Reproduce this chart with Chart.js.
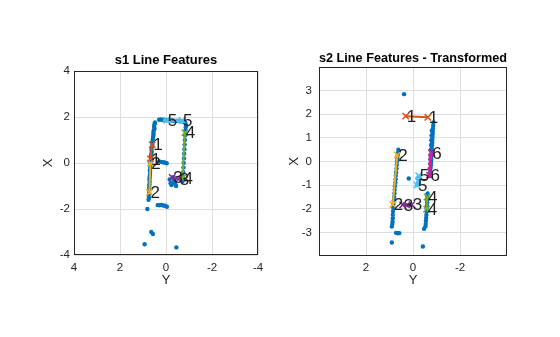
<!DOCTYPE html>
<html><head><meta charset="utf-8">
<script src="https://cdn.jsdelivr.net/npm/chart.js@4"></script>
<style>
html,body{margin:0;padding:0;background:#fff;width:560px;height:337px;overflow:hidden}
canvas{position:absolute;top:0}
#c1{left:0}#c2{left:280px}
</style></head><body>
<canvas id="c1" width="280" height="337"></canvas>
<canvas id="c2" width="280" height="337"></canvas>
<script>
// ---------- data (horizontal axis = Y, vertical axis = X) ----------
const lineNames = ['1','2','3','4','5','6'];
const lineColors = ['#D95319','#EDB120','#7E2F8E','#77AC30','#4DBEEE','#D4209C'];

// s1 scan points
const s1ScanY = [0.48,0.50,0.52,0.50,0.53,0.55,0.54,0.56,0.57,0.58,0.60,0.59,0.62,0.63,0.62,0.64,0.66,0.65,0.67,0.68,0.67,0.69,0.70,0.69,0.70,0.71,0.72,0.71,0.72,0.73,0.73,0.74,0.73,0.75,0.74,0.76,
  0.30,0.22,0.14,0.06,-0.02,-0.10,-0.18,-0.26,-0.34,-0.42,-0.50,-0.58,-0.66,-0.74,-0.82,-0.85,-0.88,
  -0.86,-0.84,-0.83,-0.82,-0.81,-0.80,-0.79,-0.78,-0.77,-0.76,-0.75,-0.73,-0.72,
  0.30,0.22,0.14,0.06,-0.03,
  -0.16,-0.20,-0.24,-0.32,-0.40,-0.44,-0.36,-0.30,
  0.36,0.28,0.20,0.12,0.04,-0.04,
  0.81,0.64,0.57,0.93,-0.45];
const s1ScanX = [1.76,1.68,1.58,1.50,1.42,1.33,1.24,1.15,1.06,0.97,0.88,0.78,0.68,0.58,0.48,0.38,0.28,0.18,0.08,-0.02,-0.12,-0.22,-0.32,-0.42,-0.52,-0.62,-0.72,-0.82,-0.92,-1.02,-1.12,-1.22,-1.32,-1.42,-1.52,-1.60,
  1.88,1.89,1.87,1.88,1.86,1.87,1.85,1.86,1.84,1.83,1.84,1.82,1.81,1.80,1.79,1.70,1.62,
  1.55,1.40,1.20,1.00,0.80,0.60,0.40,0.20,0.00,-0.20,-0.40,-0.60,-0.78,
  0.07,0.05,0.03,0.02,-0.01,
  -0.72,-0.88,-0.96,-0.84,-0.92,-1.00,-0.72,-0.62,
  -1.83,-1.84,-1.82,-1.85,-1.86,-1.90,
  -2.00,-3.00,-3.09,-3.53,-3.67];
const s1CyanY = [0.05,-0.10,-0.25,-0.40,-0.55,-0.70];
const s1CyanX = [1.86,1.85,1.84,1.84,1.83,1.82];
// s1 line features: [start, end]
const s1LineY = [[0.60,0.68],[0.68,0.72],[-0.27,-0.55],[-0.82,-0.72],[-0.03,-0.70]];
const s1LineX = [[0.80,0.18],[0.00,-1.28],[-0.63,-0.70],[1.32,-0.66],[1.86,1.85]];

// s2 scan points
const s2ScanY = [0.38,0.18,-0.42,-0.47,
  -0.87,-0.86,-0.85,-0.84,-0.84,-0.83,-0.82,-0.82,-0.81,-0.80,-0.80,-0.79,-0.78,-0.78,-0.77,-0.76,-0.75,-0.73,-0.71,-0.69,
  -0.80,-0.79,-0.78,-0.77,-0.76,-0.75,-0.74,
  -0.62,-0.61,-0.60,-0.60,-0.59,-0.58,-0.58,-0.57,-0.56,-0.55,-0.54,-0.53,
  0.62,0.63,0.65,0.66,0.68,0.69,0.70,0.72,0.73,0.74,0.75,0.77,0.78,0.79,0.80,0.82,0.83,0.84,0.85,0.86,0.86,0.87,0.88,
  0.90,0.90,0.72,0.64,0.58];
const s2ScanX = [2.85,-0.72,-3.60,-2.85,
  1.65,1.52,1.40,1.28,1.16,1.04,0.92,0.80,0.68,0.56,0.44,0.32,0.20,0.08,-0.04,-0.16,-0.28,-0.40,-0.52,-0.62,
  1.30,1.10,0.90,0.70,0.50,0.30,0.10,
  -1.35,-1.48,-1.61,-1.74,-1.87,-2.00,-2.13,-2.26,-2.39,-2.52,-2.65,-2.75,
  0.50,0.38,0.25,0.12,0.00,-0.15,-0.30,-0.45,-0.60,-0.75,-0.90,-1.05,-1.20,-1.35,-1.50,-1.65,-1.80,-1.95,-2.10,-2.25,-2.40,-2.55,-2.65,
  -2.75,-3.43,-3.02,-3.04,-3.03];
const s2CyanY = [-0.18,-0.22,-0.25,-0.20,-0.28,-0.15,-0.30];
const s2CyanX = [-0.70,-0.78,-0.86,-0.92,-0.96,-1.02,-0.66];
const s2PurpleY = [0.38,0.30,0.22,0.14,0.08];
const s2PurpleX = [-1.80,-1.84,-1.86,-1.82,-1.85];
const s2MagentaY = [-0.76,-0.74,-0.72,-0.70];
const s2MagentaX = [0.30,0.10,-0.10,-0.30];
// s2 line features: [start, end]
const s2LineY = [[0.31,-0.63],[0.67,0.86],[0.44,0.05],[-0.60,-0.58],[-0.24,-0.17],[-0.78,-0.70]];
const s2LineX = [[1.92,1.87],[0.28,-1.82],[-1.84,-1.83],[-1.50,-2.02],[-0.60,-1.00],[0.36,-0.58]];

// ticks
const s1TicksY = [4,2,0,-2,-4];
const s1TicksX = [-4,-2,0,2,4];
const s2TicksY = [2,0,-2];
const s2TicksX = [-3,-2,-1,0,1,2,3];

// ---------- styles ----------
const FONT = "'Liberation Sans', Arial, Helvetica, sans-serif";
const BLUE = '#0072BD';
const GRID = '#DFDFDF';
const AXC = '#262626';

function pts(ys, xs){ return ys.map((y,i)=>({x:y, y:xs[i]})); }

const decor = {
  id:'decor',
  afterDraw(chart){
    const ctx = chart.ctx, a = chart.chartArea;
    ctx.save();
    ctx.strokeStyle = AXC; ctx.lineWidth = 1;
    ctx.strokeRect(Math.round(a.left)+0.5, Math.round(a.top)+0.5, Math.round(a.right-a.left)-1, Math.round(a.bottom-a.top)-1);
    ctx.fillStyle = '#1e1e1e';
    ctx.font = "17px " + FONT;
    ctx.textAlign = 'left'; ctx.textBaseline = 'middle';
    chart.data.datasets.forEach((ds, i)=>{
      if(!ds.tag) return;
      const meta = chart.getDatasetMeta(i);
      meta.data.forEach(el=>{ ctx.fillText(ds.tag, el.x + 1, el.y + 1); });
    });
    ctx.restore();
  }
};

function build(id, o){
  const datasets = [];
  datasets.push({data: pts(o.scanY, o.scanX), showLine:false, pointRadius:2.2, pointHoverRadius:2.2,
    pointBackgroundColor: BLUE, pointBorderWidth:0, order:10});
  o.inliers.forEach(g=>datasets.push({data: pts(g.y, g.x), showLine:false, pointRadius:2, pointHoverRadius:2,
    pointBackgroundColor: g.c, pointBorderWidth:0, order:9}));
  o.lineY.forEach((ys,i)=>datasets.push({data: pts(ys, o.lineX[i]), showLine:true, borderColor: lineColors[i],
    borderWidth:2, pointStyle:'crossRot', pointRadius:4.5, pointHoverRadius:4.5, pointBorderColor: lineColors[i],
    pointBorderWidth:1.5, order:1, tag: lineNames[i]}));
  new Chart(document.getElementById(id), {
    type:'scatter',
    data:{datasets},
    plugins:[decor],
    options:{
      responsive:false, animation:false, events:[],
      layout:{padding:o.pad},
      plugins:{
        legend:{display:false}, tooltip:{enabled:false},
        title:{display:true, text:o.title, fullSize:false, color:'#000',
          font:{family:FONT, size:13, weight:'bold'}, padding:{top:0, bottom:o.titleGap}}
      },
      scales:{
        x:{type:'linear', reverse:true, min:-4, max:4,
          afterBuildTicks: s=>{ s.ticks = o.hTicks.map(v=>({value:v})); },
          afterFit: s=>{ s.height = 40; },
          grid:{color:GRID, drawTicks:false}, border:{display:false},
          ticks:{color:AXC, font:{family:FONT, size:11.5}, padding:o.xTickPad, maxRotation:0, callback:v=>String(v)},
          title:{display:true, text:'Y', color:AXC, font:{family:FONT, size:13}, padding:{top:0, bottom:o.xTitlePad}}},
        y:{type:'linear', min:-4, max:4,
          afterBuildTicks: s=>{ s.ticks = o.vTicks.map(v=>({value:v})); },
          afterFit: s=>{ s.width = o.yW; },
          grid:{color:GRID, drawTicks:false}, border:{display:false},
          ticks:{color:AXC, font:{family:FONT, size:11.5}, padding:o.yTickPad, callback:v=>String(v)},
          title:{display:true, text:'X', color:AXC, font:{family:FONT, size:13}, padding:{top:o.yTitlePad, bottom:0}}}
      }
    }
  });
}

build('c1', {
  title:'s1 Line Features', scanY:s1ScanY, scanX:s1ScanX,
  inliers:[{y:s1CyanY, x:s1CyanX, c:lineColors[4]}],
  lineY:s1LineY, lineX:s1LineX, hTicks:s1TicksY, vTicks:s1TicksX,
  pad:{left:34, right:22, top:52.4, bottom:42}, titleGap:3, yW:40,
  xTickPad:6.4, yTickPad:4, xTitlePad:7.2, yTitlePad:6.2
});
build('c2', {
  title:'s2 Line Features - Transformed', scanY:s2ScanY, scanX:s2ScanX,
  inliers:[{y:s2CyanY, x:s2CyanX, c:lineColors[4]},{y:s2PurpleY, x:s2PurpleX, c:lineColors[2]},{y:s2MagentaY, x:s2MagentaX, c:lineColors[5]}],
  lineY:s2LineY, lineX:s2LineX, hTicks:s2TicksY, vTicks:s2TicksX,
  pad:{left:3, right:53, top:50.2, bottom:41}, titleGap:1.2, yW:36,
  xTickPad:5.4, yTickPad:7, xTitlePad:8.2, yTitlePad:3.2
});
</script></body></html>
